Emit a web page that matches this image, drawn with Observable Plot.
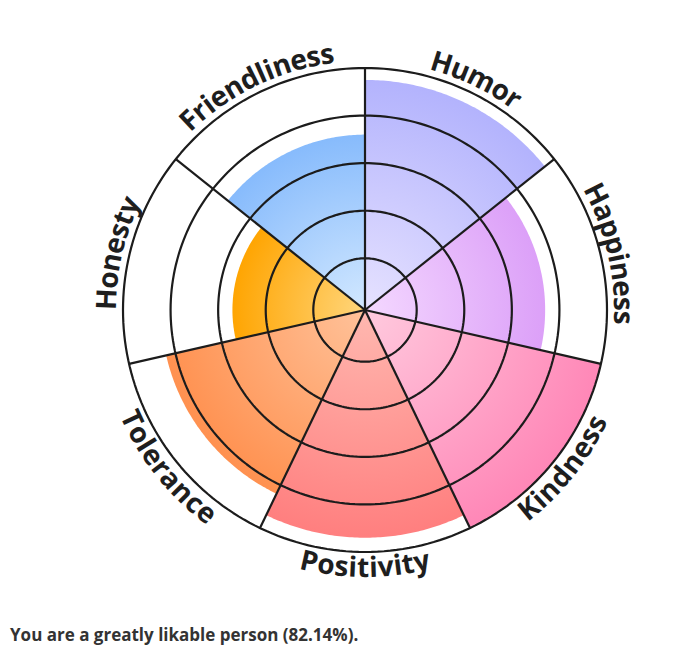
<!DOCTYPE html>
<html><head><meta charset="utf-8">
<script src="https://cdn.jsdelivr.net/npm/d3@7"></script>
<script src="https://cdn.jsdelivr.net/npm/@observablehq/plot@0.6"></script>
<style>
body{margin:0;background:#fff;font-family:"Open Sans",sans-serif;}
#chart{position:absolute;left:0;top:0;}
#caption{position:absolute;left:10px;top:623px;font:700 17px "Open Sans",sans-serif;color:#333;white-space:nowrap;}
</style></head><body>
<div id="chart"></div>
<div id="caption"></div>
<script>
// ---- data ----
const categories = ["Humor","Happiness","Kindness","Positivity","Tolerance","Honesty","Friendliness"];
const scores = [95, 74, 100, 94, 84, 54, 72];
const outerColors = ["#b3b3fd","#dca0f8","#ff87b7","#ff7f7f","#ff9150","#ffa502","#87bbfc"];
const innerColors = ["#e6e2ff","#f4d8ff","#ffcade","#ffb8b0","#ffc29a","#ffd67c","#d2e8ff"];
const ringLevels = [20, 40, 60, 80, 100];
const captionText = "You are a greatly likable person (82.14%).";

// ---- layout ----
const W = 680, H = 620, CX = 364.5, CY = 309.5, RPX = 242;
const k = RPX / 100; // px per unit
const rScale = d3.scaleLinear().domain([0, 100]).range([1.7, 100]);
const n = categories.length, step = 360 / n;
const pt = (r, deg) => { const a = deg * Math.PI / 180; return {x: r * Math.sin(a), y: r * Math.cos(a)}; };

// sectors
const sectorMarks = scores.map((s, i) => {
  const r = rScale(s), pts = [{...pt(0, 0)}];
  for (let j = 0; j <= 80; j++) pts.push(pt(r, i * step + step * j / 80));
  pts.push(pt(0, 0));
  return Plot.line(pts, {x: "x", y: "y", fill: `url(#grad${i})`, stroke: "none", curve: "linear-closed"});
});

// rings
const ringData = [];
ringLevels.forEach(l => { for (let j = 0; j <= 240; j++) ringData.push({...pt(rScale(l), 360 * j / 240), level: l}); });

// spokes
const spokes = categories.map((c, i) => { const p = pt(rScale(100), i * step); return {x1: 0, y1: 0, x2: p.x, y2: p.y}; });

// curved labels, per character
const fontSize = 28, font = `700 ${fontSize}px "Open Sans"`;
const ctx = document.createElement("canvas").getContext("2d");
ctx.font = font;
const rcPx = 258;
const chars = [];
categories.forEach((c, i) => {
  const mid = (i + 0.5) * step;
  const flipped = mid > 90 && mid < 270;
  const ws = [...c].map(ch => ctx.measureText(ch).width);
  const total = ctx.measureText(c).width;
  const scale = total / d3.sum(ws);
  const spanDeg = total / rcPx * 180 / Math.PI;
  let cum = 0;
  [...c].forEach((ch, j) => {
    const w = ws[j] * scale;
    const off = (cum + w / 2) / rcPx * 180 / Math.PI;
    cum += w;
    const ang = flipped ? mid + spanDeg / 2 - off : mid - spanDeg / 2 + off;
    const p = pt(rcPx / k, ang);
    chars.push({ch, x: p.x, y: p.y, rot: flipped ? ang - 180 : ang});
  });
});

const plot = Plot.plot({
  width: W, height: H, margin: 0,
  x: {axis: null, domain: [-CX / k, (W - CX) / k]},
  y: {axis: null, domain: [-(H - CY) / k, CY / k]},
  marks: [
    ...sectorMarks,
    Plot.line(ringData, {x: "x", y: "y", z: "level", stroke: "#1c1c1c", strokeWidth: 2.2}),
    Plot.link(spokes, {x1: "x1", y1: "y1", x2: "x2", y2: "y2", stroke: "#1c1c1c", strokeWidth: 2.2}),
    Plot.text(chars, {x: "x", y: "y", text: "ch", rotate: "rot", fontSize, fontWeight: 700,
      fontFamily: "Open Sans", fill: "#1e1e1e", textAnchor: "middle", lineAnchor: "middle"})
  ]
});

// gradients
const ns = "http://www.w3.org/2000/svg";
const xs = plot.scale("x"), ys = plot.scale("y");
const defs = document.createElementNS(ns, "defs");
scores.forEach((s, i) => {
  const g = document.createElementNS(ns, "radialGradient");
  g.setAttribute("id", "grad" + i);
  g.setAttribute("gradientUnits", "userSpaceOnUse");
  g.setAttribute("cx", xs.apply(0)); g.setAttribute("cy", ys.apply(0));
  g.setAttribute("r", xs.apply(rScale(s)) - xs.apply(0));
  [[0, innerColors[i]], [1, outerColors[i]]].forEach(([o, c]) => {
    const st = document.createElementNS(ns, "stop");
    st.setAttribute("offset", o); st.setAttribute("stop-color", c);
    g.appendChild(st);
  });
  defs.appendChild(g);
});
plot.insertBefore(defs, plot.firstChild);
document.getElementById("chart").appendChild(plot);
document.getElementById("caption").textContent = captionText;
</script>
</body></html>
